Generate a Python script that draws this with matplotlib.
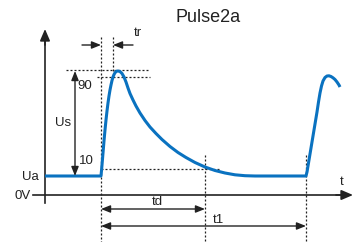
import numpy as np
import matplotlib.pyplot as plt

# Pulse shape (pixel coords, y grows downward)
pulse_x = [45, 101, 102, 103, 104, 105, 106, 107, 108, 109, 110, 111, 112, 113, 114, 115, 116, 117,
           118, 120, 122, 124, 126, 128, 130, 133, 136, 140, 145, 150, 156, 162, 170, 178, 186,
           195, 205, 215, 225, 235, 245, 255, 306,
           307, 309, 311, 313, 315, 317, 318.5, 320, 321.5, 323, 325, 327, 329, 331, 333, 335,
           337, 339, 340]
pulse_y = [176, 176, 165, 153, 141, 130, 120, 111, 103, 96, 90, 85, 80.5, 77, 74.5, 72.8, 71.6, 71.1,
           71, 71.5, 73.5, 77, 82, 88, 93.5, 100, 106, 113, 120.5, 127, 133.5, 139.5, 146.5, 152.5,
           157.5, 162.5, 167, 170.5, 173, 174.8, 175.7, 176, 176,
           172, 160, 148, 136, 124, 112, 102, 93, 86, 81, 77.5, 76, 75.8, 76.5, 77.8, 79.5,
           82, 85, 87]

# Reference levels / times
ua_level = 176
peak_level = 71
lvl90 = 77
lvl10 = 169
t_start = 101
t_rise = 113
t_d = 205
t_1 = 306

blue = '#0a72c0'
ink = '#222222'

plt.rcParams['font.family'] = ['Liberation Sans', 'DejaVu Sans']

fig = plt.figure(figsize=(3.53, 2.42), dpi=100)
ax = fig.add_axes([0, 0, 1, 1])
ax.set_xlim(0, 353)
ax.set_ylim(242, 0)
ax.axis('off')

dot = dict(color=ink, lw=0.9, linestyle=(0, (1.6, 1.6)))

# dotted guide lines
ax.plot([66, 150], [peak_level - 1, peak_level - 1], **dot)
ax.plot([97, 150], [lvl90, lvl90], **dot)
ax.plot([t_start, 220], [lvl10, lvl10], **dot)
ax.plot([t_start, t_start], [37, 242], **dot)
ax.plot([t_rise, t_rise], [37, peak_level], **dot)
ax.plot([t_d, t_d], [155, 242], **dot)
ax.plot([t_1, t_1], [155, 242], **dot)

# axes with arrows
ax.plot([45, 45], [203, 40], color=ink, lw=1.2)
ax.annotate('', xy=(45, 29), xytext=(45, 45),
            arrowprops=dict(arrowstyle='-|>,head_length=0.7,head_width=0.3', color=ink, lw=1.2,
                            shrinkA=0, shrinkB=0))
ax.plot([33, 340], [195, 195], color=ink, lw=1.2)
ax.annotate('', xy=(353, 195), xytext=(336, 195),
            arrowprops=dict(arrowstyle='-|>,head_length=0.7,head_width=0.3', color=ink, lw=1.2,
                            shrinkA=0, shrinkB=0))

# pulse
ax.plot(pulse_x, pulse_y, color=blue, lw=2.2, solid_joinstyle='round', solid_capstyle='butt')

head = '-|>,head_length=0.55,head_width=0.22'
dbl = '<|-|>,head_length=0.55,head_width=0.22'
ap = dict(color=ink, lw=1.0, shrinkA=0, shrinkB=0)

# tr arrows
ax.annotate('', xy=(t_start, 45), xytext=(82, 45), arrowprops=dict(arrowstyle=head, **ap))
ax.annotate('', xy=(t_rise, 45), xytext=(133, 45), arrowprops=dict(arrowstyle=head, **ap))
# Us arrow
ax.annotate('', xy=(75, peak_level), xytext=(75, ua_level), arrowprops=dict(arrowstyle=dbl, **ap))
# td and t1 arrows
ax.annotate('', xy=(t_start, 209), xytext=(t_d, 209), arrowprops=dict(arrowstyle=dbl, **ap))
ax.annotate('', xy=(t_start, 226), xytext=(t_1, 226), arrowprops=dict(arrowstyle=dbl, **ap))

# labels
fs = 9.5
ax.text(208, 17, 'Pulse2a', fontsize=13, color=ink, ha='center', va='center')
ax.text(138, 33, 'tr', fontsize=fs, color=ink, ha='center', va='center')
ax.text(85, 86, '90', fontsize=fs, color=ink, ha='center', va='center')
ax.text(86, 161, '10', fontsize=fs, color=ink, ha='center', va='center')
ax.text(63, 123, 'Us', fontsize=fs, color=ink, ha='center', va='center')
ax.text(39, 177, 'Ua', fontsize=fs, color=ink, ha='right', va='center')
ax.text(31, 196, '0V', fontsize=fs, color=ink, ha='right', va='center')
ax.text(342, 182, 't', fontsize=fs, color=ink, ha='center', va='center')
ax.text(157, 202, 'td', fontsize=fs, color=ink, ha='center', va='center')
ax.text(218, 220, 't1', fontsize=fs, color=ink, ha='center', va='center')

fig.savefig('out.png', dpi=100)
